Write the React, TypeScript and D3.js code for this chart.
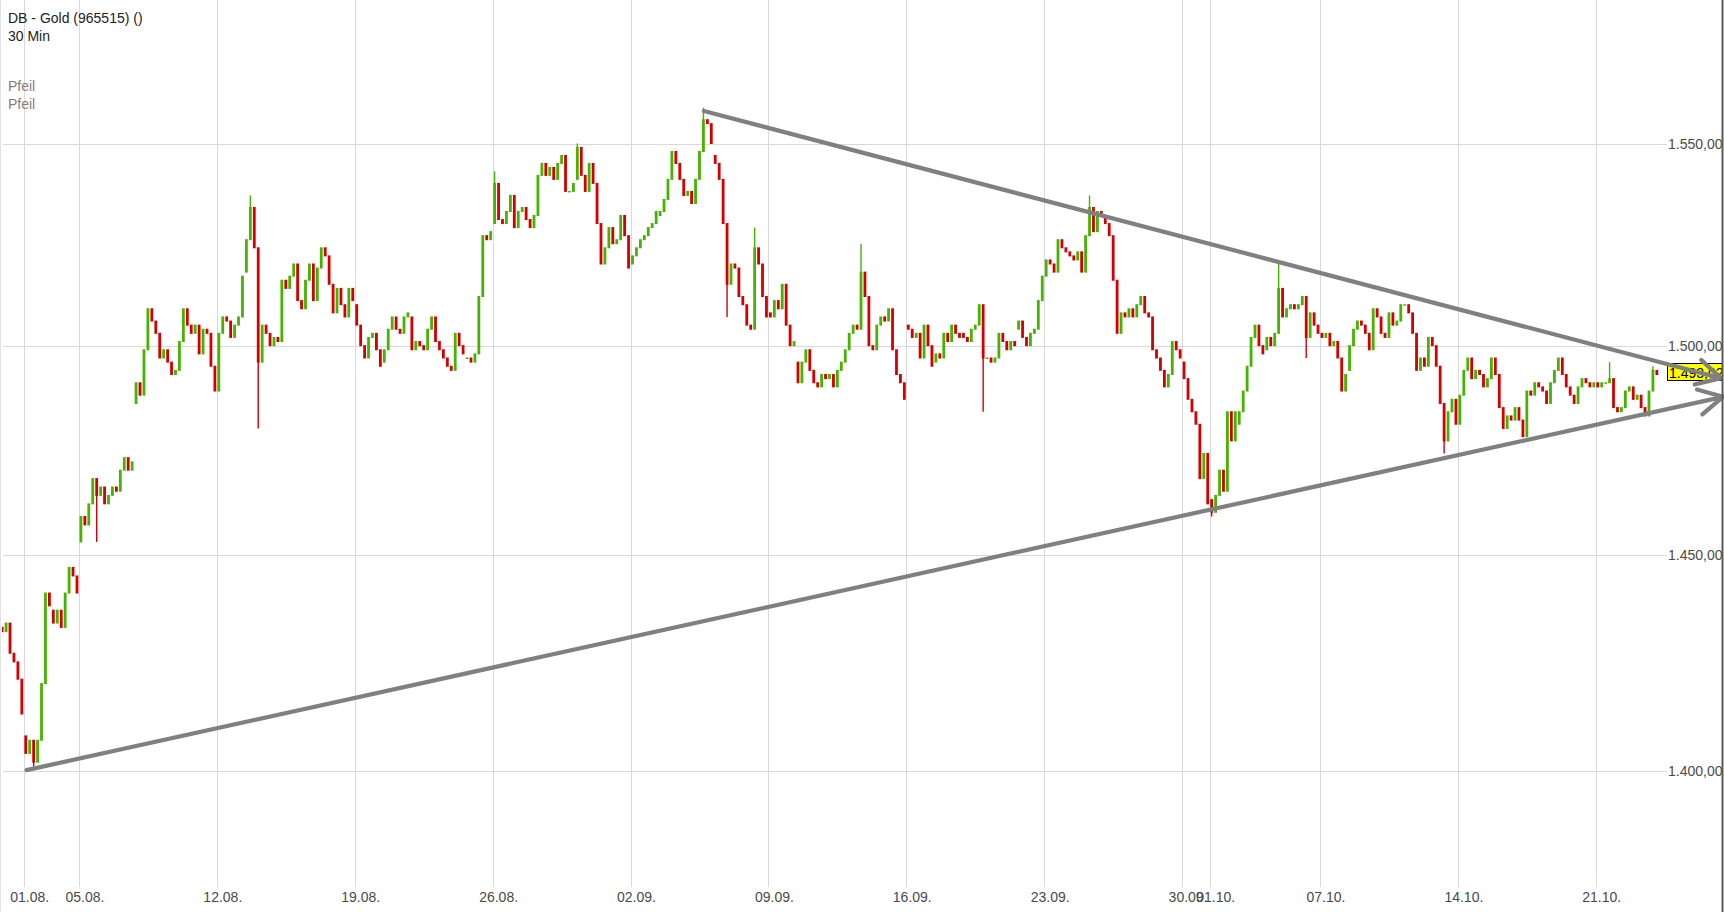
import * as d3 from "d3";
import React from "react";

const width = 1724;
const height = 912;

// trading sessions shown on the chart (31.07. is only partly visible)
const sessionDates = [
  "31.07.", "01.08.", "02.08.", "05.08.", "06.08.", "07.08.", "08.08.", "09.08.",
  "12.08.", "13.08.", "14.08.", "15.08.", "16.08.", "19.08.", "20.08.", "21.08.",
  "22.08.", "23.08.", "26.08.", "27.08.", "28.08.", "29.08.", "30.08.", "02.09.",
  "03.09.", "04.09.", "05.09.", "06.09.", "09.09.", "10.09.", "11.09.", "12.09.",
  "13.09.", "16.09.", "17.09.", "18.09.", "19.09.", "20.09.", "23.09.", "24.09.",
  "25.09.", "26.09.", "27.09.", "30.09.", "01.10.", "02.10.", "03.10.", "04.10.",
  "07.10.", "08.10.", "09.10.", "10.10.", "11.10.", "14.10.", "15.10.", "16.10.",
  "17.10.", "18.10.", "21.10.", "22.10.", "23.10.",
];

// per session: opening price followed by the closes of the condensed bars
const sessionPrices = [
  [1432, 1433, 1432, 1434, 1427, 1425, 1421, 1413], // 31.07.
  [1408, 1404, 1407, 1402, 1407, 1420, 1441, 1438], // 01.08.
  [1437, 1434, 1437, 1433, 1441, 1447, 1445, 1441], // 02.08.
  [1453, 1459, 1457, 1462, 1468, 1464, 1466, 1462], // 05.08.
  [1462, 1464, 1466, 1465, 1470, 1473, 1470, 1472], // 06.08.
  [1486, 1491, 1488, 1499, 1509, 1506, 1503, 1497], // 07.08.
  [1497, 1499, 1496, 1493, 1494, 1501, 1509, 1505], // 08.08.
  [1505, 1503, 1505, 1498, 1504, 1503, 1495, 1489], // 09.08.
  [1489, 1503, 1507, 1506, 1502, 1505, 1507, 1517], // 12.08.
  [1518, 1526, 1534, 1524, 1496, 1505, 1503, 1500], // 13.08.
  [1500, 1502, 1501, 1516, 1514, 1517, 1520, 1511], // 14.08.
  [1511, 1509, 1516, 1520, 1511, 1519, 1524, 1522], // 15.08.
  [1522, 1515, 1508, 1514, 1510, 1507, 1514, 1511], // 16.08.
  [1510, 1505, 1500, 1497, 1502, 1503, 1499, 1495], // 19.08.
  [1496, 1499, 1504, 1507, 1504, 1503, 1507, 1508], // 20.08.
  [1507, 1499, 1501, 1500, 1499, 1504, 1507, 1501], // 21.08.
  [1501, 1499, 1497, 1495, 1494, 1503, 1500, 1498], // 22.08.
  [1497, 1497, 1496, 1498, 1512, 1527, 1526, 1528], // 23.08.
  [1530, 1540, 1531, 1530, 1533, 1537, 1529, 1533], // 26.08.
  [1533, 1534, 1531, 1529, 1532, 1542, 1545, 1542], // 27.08.
  [1542, 1544, 1541, 1545, 1547, 1538, 1538, 1540], // 28.08.
  [1541, 1549, 1542, 1538, 1545, 1540, 1530, 1520], // 29.08.
  [1520, 1524, 1529, 1525, 1526, 1532, 1527, 1519], // 30.08.
  [1520, 1522, 1524, 1526, 1527, 1529, 1530, 1533], // 02.09.
  [1532, 1533, 1536, 1541, 1548, 1545, 1541, 1537], // 03.09.
  [1537, 1538, 1535, 1541, 1548, 1556, 1555, 1550], // 04.09.
  [1547, 1545, 1541, 1530, 1515, 1520, 1519, 1512], // 05.09.
  [1512, 1510, 1505, 1504, 1524, 1520, 1512, 1507], // 06.09.
  [1508, 1507, 1511, 1509, 1515, 1505, 1500, 1501], // 09.09.
  [1496, 1491, 1496, 1499, 1494, 1491, 1490, 1493], // 10.09.
  [1493, 1492, 1493, 1490, 1494, 1496, 1499, 1503], // 11.09.
  [1503, 1505, 1504, 1518, 1512, 1500, 1499, 1505], // 12.09.
  [1505, 1507, 1506, 1509, 1499, 1493, 1491, 1487], // 13.09.
  [1505, 1504, 1502, 1503, 1497, 1505, 1500, 1495], // 16.09.
  [1496, 1498, 1497, 1503, 1501, 1505, 1503, 1502], // 17.09.
  [1503, 1502, 1501, 1504, 1505, 1510, 1497, 1497], // 18.09.
  [1497, 1496, 1497, 1503, 1501, 1499, 1501, 1500], // 19.09.
  [1504, 1506, 1502, 1500, 1503, 1504, 1511, 1517], // 20.09.
  [1517, 1521, 1520, 1518, 1526, 1524, 1523, 1522], // 23.09.
  [1522, 1521, 1523, 1518, 1527, 1534, 1528, 1533], // 24.09.
  [1533, 1532, 1530, 1527, 1516, 1503, 1508, 1507], // 25.09.
  [1507, 1509, 1507, 1510, 1512, 1508, 1507, 1499], // 26.09.
  [1499, 1497, 1494, 1490, 1493, 1501, 1499, 1497], // 27.09.
  [1496, 1492, 1487, 1484, 1481, 1468, 1474, 1462], // 30.09.
  [1463, 1460, 1464, 1470, 1465, 1484, 1477, 1484], // 01.10.
  [1481, 1484, 1489, 1495, 1502, 1505, 1500, 1498], // 02.10.
  [1499, 1502, 1500, 1503, 1514, 1507, 1509, 1510], // 03.10.
  [1510, 1509, 1510, 1512, 1502, 1508, 1505, 1503], // 04.10.
  [1503, 1502, 1503, 1500, 1501, 1497, 1489, 1493], // 07.10.
  [1494, 1500, 1504, 1506, 1505, 1503, 1499, 1509], // 08.10.
  [1509, 1507, 1503, 1502, 1508, 1505, 1506, 1510], // 09.10.
  [1510, 1510, 1508, 1503, 1494, 1497, 1495, 1502], // 10.10.
  [1502, 1500, 1495, 1486, 1477, 1484, 1487, 1481], // 11.10.
  [1481, 1488, 1494, 1497, 1492, 1494, 1493, 1490], // 14.10.
  [1490, 1492, 1497, 1493, 1485, 1480, 1483, 1482], // 15.10.
  [1482, 1485, 1482, 1478, 1489, 1488, 1491, 1490], // 16.10.
  [1490, 1489, 1486, 1491, 1494, 1497, 1493, 1490], // 17.10.
  [1490, 1488, 1486, 1490, 1492, 1491, 1490, 1491], // 18.10.
  [1491, 1490, 1491, 1491, 1492, 1485, 1484, 1485], // 21.10.
  [1485, 1489, 1490, 1487, 1488, 1485, 1483, 1489], // 22.10.
  [1489, 1494, 1493], // 23.10.
];

// single bars whose wick reaches well past the body: [session, bar, price]
const wickExtremes: [string, number, number][] = [
  ["01.08.", 3, 1401], ["05.08.", 5, 1453], ["13.08.", 2, 1537], ["13.08.", 4, 1480],
  ["26.08.", 1, 1543], ["29.08.", 1, 1550], ["04.09.", 5, 1559], ["05.09.", 4, 1507],
  ["06.09.", 4, 1529], ["12.09.", 3, 1525], ["18.09.", 6, 1484], ["24.09.", 5, 1537],
  ["01.10.", 1, 1459], ["03.10.", 4, 1520], ["04.10.", 4, 1497], ["11.10.", 4, 1474],
  ["21.10.", 4, 1496], ["23.10.", 1, 1495],
];

const xTickLabels = [
  "01.08.", "05.08.", "12.08.", "19.08.", "26.08.", "02.09.", "09.09.",
  "16.09.", "23.09.", "30.09.", "01.10.", "07.10.", "14.10.", "21.10.",
];
const yTicks = [1400, 1450, 1500, 1550];

// drawn trend arrows "Pfeil": [session position, price] start and tip
const upperArrow = [[24.66, 1558.2], [61.54, 1492.1]];
const lowerArrow = [[0.1, 1400.2], [61.61, 1487.6]];

const lastPrice = 1493.02;

const barsPerSession = 7;
const de = d3.formatLocale({ decimal: ",", thousands: ".", grouping: [3], currency: ["", " €"] });
const fmt = de.format(",.2f");

const font = "'Liberation Sans', Arial, sans-serif";
const upColor = "#46b300";
const downColor = "#d40000";

function Chart() {
  // session 01.08. = 0
  const x = d3.scaleLinear().domain([0, 57]).range([23.8, 1595.8]);
  const y = d3.scaleLog().domain([1400, 1550]).range([771, 143.5]);
  const plotBottom = 887;
  const labelX = 1668;

  const sessionPos = (d: string) => sessionDates.indexOf(d) - 1;

  const candles: any[] = [];
  sessionPrices.forEach((vals, s) => {
    const k = s - 1;
    for (let j = 1; j < vals.length; j++) {
      const o = vals[j - 1];
      const c = vals[j];
      candles.push({
        key: `${s}-${j}`,
        cx: x(k + (j - 0.5) / barsPerSession),
        o,
        c,
        up: c >= o,
      });
    }
  });

  const wicks = wickExtremes.map(([d, j, p]) => {
    const s = sessionPos(d) + 1;
    const o = sessionPrices[s][j - 1];
    const c = sessionPrices[s][j];
    const from = p > Math.max(o, c) ? Math.max(o, c) : Math.min(o, c);
    return {
      key: `${d}-${j}`,
      cx: x(s - 1 + (j - 0.5) / barsPerSession),
      y1: y(from),
      y2: y(p),
      up: c >= o,
    };
  });

  const arrow = (pts: number[][]) => {
    const x1 = x(pts[0][0]);
    const y1 = y(pts[0][1]);
    const x2 = x(pts[1][0]);
    const y2 = y(pts[1][1]);
    const a = Math.atan2(y2 - y1, x2 - x1);
    const len = 27;
    const spread = (28 * Math.PI) / 180;
    const h1 = [x2 - len * Math.cos(a - spread), y2 - len * Math.sin(a - spread)];
    const h2 = [x2 - len * Math.cos(a + spread), y2 - len * Math.sin(a + spread)];
    return (
      <g>
        <line x1={x1} y1={y1} x2={x2} y2={y2} />
        <polyline points={`${h1[0]},${h1[1]} ${x2},${y2} ${h2[0]},${h2[1]}`} fill="none" />
      </g>
    );
  };

  const lastY = y(lastPrice);

  return (
    <svg
      width={width}
      height={height}
      style={{ position: "absolute", left: 0, top: 0, background: "#fff" }}
      fontFamily={font}
    >
      <defs>
        <clipPath id="plot">
          <rect x={2} y={0} width={1664} height={plotBottom} />
        </clipPath>
        <clipPath id="axis">
          <rect x={0} y={0} width={1722} height={height} />
        </clipPath>
      </defs>

      {/* grid */}
      <g stroke="#d9d9d9" strokeWidth={1}>
        {xTickLabels.map((d) => (
          <line
            key={d}
            x1={Math.round(x(sessionPos(d))) + 0.5}
            x2={Math.round(x(sessionPos(d))) + 0.5}
            y1={0}
            y2={plotBottom}
          />
        ))}
        {yTicks.map((t) => (
          <line key={t} x1={3} x2={1667} y1={Math.round(y(t)) + 0.5} y2={Math.round(y(t)) + 0.5} />
        ))}
      </g>
      <line x1={0.5} x2={0.5} y1={0} y2={height} stroke="#e3e3e3" />

      {/* x labels */}
      <g fontSize={14} fill="#4a4a4a">
        {xTickLabels.map((d) => (
          <text key={d} x={x(sessionPos(d)) - 13.5} y={901.5}>
            {d}
          </text>
        ))}
      </g>

      {/* y labels */}
      <g fontSize={14} fill="#4a4a4a" clipPath="url(#axis)">
        {yTicks.map((t) => (
          <text key={t} x={labelX} y={y(t) + 5}>
            {fmt(t)}
          </text>
        ))}
      </g>

      {/* candles */}
      <g clipPath="url(#plot)">
        {candles.map((c) => {
          const top = y(Math.max(c.o, c.c));
          const bot = y(Math.min(c.o, c.c));
          return (
            <rect
              key={c.key}
              x={c.cx - 1.4}
              y={top - 0.5}
              width={2.8}
              height={Math.max(1.5, bot - top + 1)}
              fill={c.up ? upColor : downColor}
            />
          );
        })}
        {wicks.map((w) => (
          <line
            key={w.key}
            x1={w.cx}
            x2={w.cx}
            y1={w.y1}
            y2={w.y2}
            stroke={w.up ? upColor : downColor}
            strokeWidth={1.4}
          />
        ))}
      </g>

      {/* last price */}
      <g clipPath="url(#axis)">
        <rect x={1667.5} y={Math.round(lastY) - 10.5} width={60} height={17} fill="#ffff00" stroke="#000" />
        <text x={1669} y={Math.round(lastY) + 3.5} fontSize={14} fill="#000">
          {fmt(lastPrice)}
        </text>
      </g>

      {/* drawn arrows */}
      <g stroke="#808080" strokeWidth={4.2} strokeLinecap="round" strokeLinejoin="round">
        {arrow(upperArrow)}
        {arrow(lowerArrow)}
      </g>

      {/* right border */}
      <line x1={1722.5} x2={1722.5} y1={0} y2={height} stroke="#5a5a5a" strokeWidth={2} />

      {/* header */}
      <g fontSize={14}>
        <text x={8} y={22.5} fill="#222">
          DB - Gold (965515) ()
        </text>
        <text x={8} y={40.5} fill="#222">
          30 Min
        </text>
        <text x={8} y={90.5} fill="#808080">
          Pfeil
        </text>
        <text x={8} y={108.5} fill="#808080">
          Pfeil
        </text>
      </g>
    </svg>
  );
}

export default function App() {
  return <Chart />;
}
